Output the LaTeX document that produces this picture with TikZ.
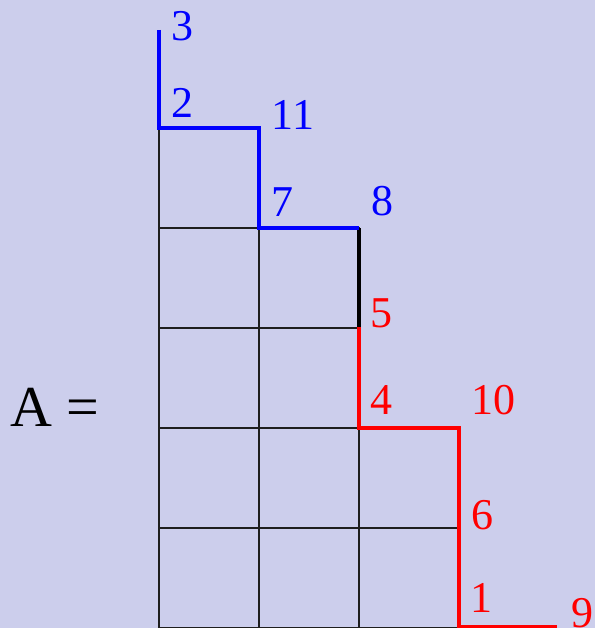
\documentclass[tikz,border=0pt]{standalone}
\usepackage{fontspec}
\setmainfont{Liberation Serif}
\definecolor{bg}{RGB}{204,206,236}
\definecolor{gridc}{RGB}{30,30,30}
\begin{document}
\begin{tikzpicture}[x=1pt,y=-1pt,
  cell/.style={draw=gridc,line width=1.2pt},
  bluepath/.style={draw=blue,line width=4.3pt},
  redpath/.style={draw=red,line width=4.3pt},
  blackpath/.style={draw=black,line width=4.3pt},
  lab/.style={inner sep=0pt,anchor=center,font=\fontsize{44}{48}\selectfont},
  bl/.style={lab,text=blue},
  rl/.style={lab,text=red}]
\fill[bg] (0,0) rectangle (595,628);
\useasboundingbox (0,0) rectangle (595,628);
% grid
\foreach \y in {128,228,328,428,528}{\draw[cell] (159,\y) rectangle +(100,100);}
\foreach \y in {228,328,428,528}{\draw[cell] (259,\y) rectangle +(100,100);}
\foreach \y in {428,528}{\draw[cell] (359,\y) rectangle +(100,100);}
% path corners
\coordinate (p0) at (159,30);
\coordinate (p1) at (159,128);
\coordinate (p2) at (259,128);
\coordinate (p3) at (259,228);
\coordinate (p4) at (359,228);
\coordinate (p5) at (359,327);
\coordinate (p6) at (359,428);
\coordinate (p7) at (459,428);
\coordinate (p8) at (459,627);
\coordinate (p9) at (557,627);
\draw[blackpath] (p4) -- (p5);
\draw[bluepath,line join=miter] (p0) -- (p1) -- (p2) -- (p3) -- (p4);
\draw[redpath,line join=miter] (p5) -- (p6) -- (p7) -- (p8) -- (p9);
% labels
\node[bl] (l3) at (182,26) {3};
\node[bl] (l2) at (182,103) {2};
\node[bl] (l11) at (293,115) {11};
\node[bl] (l7) at (282,202) {7};
\node[bl] (l8) at (382,201) {8};
\node[rl] (l5) at (381,313) {5};
\node[rl] (l4) at (381,400) {4};
\node[rl] (l10) at (493,400) {10};
\node[rl] (l6) at (482,515) {6};
\node[rl] (l1) at (481,598) {1};
\node[rl] (l9) at (582,613) {9};
\node[inner sep=0pt,anchor=center,font=\fontsize{58}{62}\selectfont] (A) at (55,407) {A\hspace{0.25em}=};
\end{tikzpicture}
\end{document}
